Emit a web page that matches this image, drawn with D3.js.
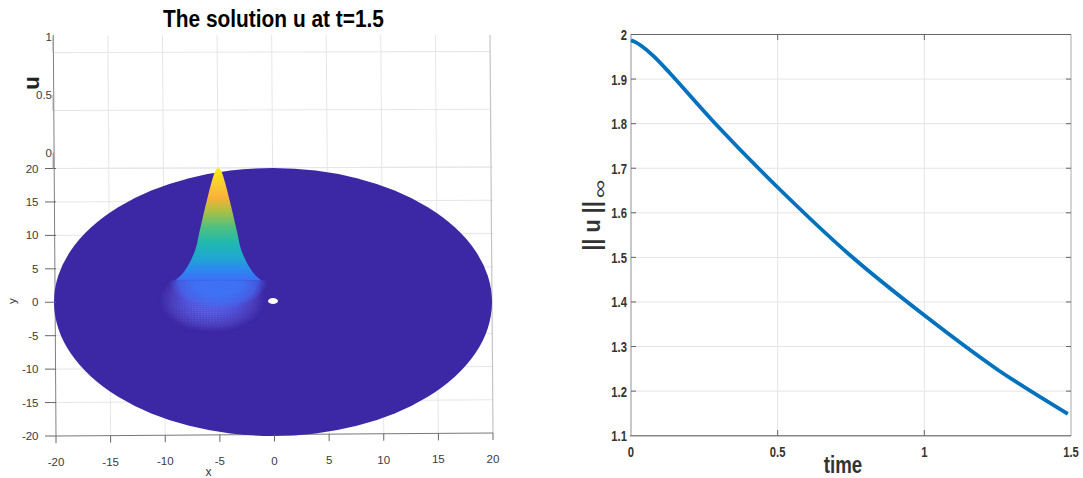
<!DOCTYPE html>
<html><head><meta charset="utf-8">
<script src="https://cdn.jsdelivr.net/npm/d3@7/dist/d3.min.js"></script>
<style>html,body{margin:0;background:#fff}svg{display:block}text{font-family:"Liberation Sans",Arial,sans-serif}</style>
</head><body><svg id="c" width="1083" height="478"></svg>
<script>
// ---- data ----
const title = "The solution u at t=1.5";
const xyTicks = [-20,-15,-10,-5,0,5,10,15,20];
const yyTicks = [-20,-15,-10,-5,0,5,10,15,20];
const zTicks = [0,0.5,1];
const peakX = -5, peakY = 0;
const diskRadius = 20;
const profileU = [1,0.99,0.963,0.886,0.761,0.637,0.515,0.388,0.261,0.2,0.16];
const profileR = [0,0.17,0.35,0.64,1.03,1.40,1.74,2.1,2.84,3.39,3.95];
const stopU = [1,0.89,0.78,0.685,0.56,0.44,0.335,0.24,0.142];
const stopColor = ["#f8f010","#fad030","#fbb03a","#b0c040","#50c080","#20b8b0","#20a8d0","#2d88f0","#4068f8"];
const skirtOffsets = [0,0.5,0.8,1];
const skirtColors = ["#5662e4","#5050d8","#4a3cba","#3c28a5"];
const timeVals = [0,0.015,0.036,0.076,0.133,0.286,0.497,0.75,1,1.25,1.489];
const normVals = [1.987,1.983,1.974,1.952,1.913,1.801,1.659,1.503,1.37,1.248,1.149];
const timeTicks = [0,0.5,1,1.5];
const normTicks = [1.1,1.2,1.3,1.4,1.5,1.6,1.7,1.8,1.9,2];

const svg = d3.select("#c");
const defs = svg.append("defs");
// ---- left panel scales (tilted 3-D box) ----
const xBot = d3.scaleLinear([-20,20],[56,493]);
const xTop = d3.scaleLinear([-20,20],[53.3,490]);
const yLft = d3.scaleLinear([-20,20],[436,168.5]);
const yRgt = d3.scaleLinear([-20,20],[433,167]);
const zLft = d3.scaleLinear([0,1],[168.5,52.6]);
const zRgt = d3.scaleLinear([0,1],[167,51.5]);
const gl = svg.append("g");
const gridC = "#e6e6e6";
const ln=(g,x1,y1,x2,y2,c,w)=>g.append("line").attr("x1",x1).attr("y1",y1).attr("x2",x2).attr("y2",y2).attr("stroke",c).attr("stroke-width",w);
xyTicks.forEach(v=>{ if(v>-20&&v<20) ln(gl,xTop(v),35,xBot(v),436,gridC,1); });
yyTicks.forEach(v=>{ if(v>-20) ln(gl,xBot(-20),yLft(v),xBot(20),yRgt(v),gridC,1); });
zTicks.forEach(v=>{ ln(gl,xTop(-20),zLft(v),xTop(20),zRgt(v),gridC,1); });
ln(gl,xTop(-20),35,xBot(-20),436,"#808080",1);
ln(gl,xTop(20),35,xBot(20),433,"#c4c4c4",1.2);
ln(gl,xBot(-20),436,xBot(20),433,"#777",1);
// disk
const diskX = d3.scaleLinear([-20,20],[54,492]);
const diskY = d3.scaleLinear([-20,20],[436,168]);
gl.append("ellipse").attr("cx",diskX(0)).attr("cy",diskY(0)).attr("rx",diskX(diskRadius)-diskX(0)).attr("ry",diskY(0)-diskY(diskRadius)).attr("fill","#3c28a5");
// peak
const pcx = diskX(peakX), rxU = (diskX(20)-diskX(0))/20;
const peakZ = d3.scaleLinear([0,1],[diskY(peakY),168]);
const rg = defs.append("radialGradient").attr("id","sk");
skirtOffsets.forEach((o,i)=>rg.append("stop").attr("offset",o).attr("stop-color",skirtColors[i]));
const rg3 = defs.append("radialGradient").attr("id","sk3");
[[0,"#3d72f4",1],[0.5,"#3d72f4",0.95],[0.8,"#4468ee",0.75],[1,"#4660e8",0]].forEach(s=>rg3.append("stop").attr("offset",s[0]).attr("stop-color",s[1]).attr("stop-opacity",s[2]));
const rg4 = defs.append("radialGradient").attr("id","sk4");
[[0,"#fff",1],[1,"#fff",0]].forEach(s=>rg4.append("stop").attr("offset",s[0]).attr("stop-color",s[1]).attr("stop-opacity",s[2]));
const mask = defs.append("mask").attr("id","skm");
mask.append("ellipse").attr("cx",pcx-14).attr("cy",311).attr("rx",40).attr("ry",20).attr("fill","url(#sk4)");
const pat = defs.append("pattern").attr("id","dots").attr("width",3).attr("height",2).attr("patternUnits","userSpaceOnUse");
pat.append("rect").attr("width",1.4).attr("height",1).attr("fill","#8a86f0");
defs.append("clipPath").attr("id","below").append("rect").attr("x",pcx-70).attr("y",peakZ(profileU[10])).attr("width",140).attr("height",60);
defs.append("filter").attr("id","bl").append("feGaussianBlur").attr("stdDeviation",1);
gl.append("ellipse").attr("cx",pcx-6).attr("cy",300).attr("rx",52).attr("ry",32).attr("fill","url(#sk)").attr("filter","url(#bl)");
gl.append("rect").attr("x",pcx-56).attr("y",290).attr("width",84).attr("height",42).attr("fill","url(#dots)").attr("mask","url(#skm)").attr("opacity",0.4);
const lg = defs.append("linearGradient").attr("id","pk").attr("gradientUnits","userSpaceOnUse").attr("x1",0).attr("x2",0).attr("y1",peakZ(1)).attr("y2",peakZ(stopU[8]));
const uSpan = 1-stopU[8];
stopU.forEach((u,i)=>lg.append("stop").attr("offset",(1-u)/uSpan).attr("stop-color",stopColor[i]));
const prof = profileU.map((u,i)=>({u,r:profileR[i]}));
const area = d3.area().curve(d3.curveCatmullRom).y(d=>peakZ(d.u)).x0(d=>pcx-d.r*rxU).x1(d=>pcx+d.r*rxU);
gl.append("path").attr("d",area(prof)).attr("fill","url(#pk)");
gl.append("g").attr("clip-path","url(#below)").append("ellipse").attr("cx",pcx).attr("cy",peakZ(profileU[10])).attr("rx",profileR[10]*rxU+6).attr("ry",30).attr("fill","url(#sk3)");
// hole
gl.append("ellipse").attr("cx",273).attr("cy",301).attr("rx",5).attr("ry",3).attr("fill","#fff");
// ticks + labels
const tl = (x,y,s,a="middle",fs=11.5)=>gl.append("text").attr("x",x).attr("y",y).attr("text-anchor",a).attr("font-size",fs).attr("fill","#3a3a3a").text(s);
xyTicks.forEach(v=>{
  const x=xBot(v), yb=436-(v+20)/40*3;
  ln(gl,x,yb,x,yb+7,"#666",1);
  tl(x,466-(v+20)/40*3,v);
});
yyTicks.forEach(v=>{
  ln(gl,45,yLft(v),xBot(-20),yLft(v),"#666",1);
  tl(38.5,yLft(v)+4,v,"end");
});
zTicks.forEach(v=>{
  ln(gl,xTop(-20),zLft(v)-16,xTop(-20),zLft(v),"#999",1.4);
  tl(52,zLft(v)-12,v,"end");
});
gl.append("text").attr("transform","translate(273.5,26.5) scale(0.87,1)").attr("text-anchor","middle").attr("font-size",24).attr("font-weight","bold").attr("fill","#000").text(title);
gl.append("text").attr("transform","translate(39,83) rotate(-90)").attr("text-anchor","middle").attr("font-size",22).attr("font-weight","bold").attr("fill","#222").text("u");
gl.append("text").attr("transform","translate(16,301) rotate(-90)").attr("text-anchor","middle").attr("font-size",11.5).attr("fill","#3a3a3a").text("y");
tl(208.5,476,"x","middle",12);

// ---- right panel ----
const xR = d3.scaleLinear([0,1.5],[631,1071]);
const yR = d3.scaleLinear([1.1,2],[435.7,34.5]);
const gr = svg.append("g");
timeTicks.slice(1,-1).forEach(v=>ln(gr,xR(v),34.5,xR(v),435.7,"#e4e4e4",1));
normTicks.slice(1,-1).forEach(v=>ln(gr,631,yR(v),1071,yR(v),"#e4e4e4",1));
ln(gr,631,34,631,436,"#c8c8c8",2);
ln(gr,1071,34.5,1071,436,"#aaa",1);
ln(gr,631,34.5,1071,34.5,"#666",1);
ln(gr,630,435.7,1071,435.7,"#888",1.5);
timeTicks.slice(1,-1).forEach(v=>{ln(gr,xR(v),34.5,xR(v),40,"#666",1);ln(gr,xR(v),430,xR(v),435.7,"#666",1);});
normTicks.slice(1,-1).forEach(v=>{ln(gr,631,yR(v),636,yR(v),"#666",1);ln(gr,1066,yR(v),1071,yR(v),"#666",1);});
const squeezed=(x,y,s,a,fs,sx,rot,w,sy)=>gr.append("text").attr("transform",`translate(${x},${y})${rot?` rotate(${rot})`:""} scale(${sx},${sy||1})`).attr("text-anchor",a).attr("font-size",fs).attr("font-weight",w||"bold").attr("fill","#333").text(s);
timeTicks.forEach(v=>squeezed(xR(v),457,v,"middle",15,0.75));
normTicks.forEach(v=>squeezed(627,yR(v)+5.5,v,"end",15,0.75));
squeezed(843,473,"time","middle",24,0.78);
squeezed(600,226,"|| u ||","middle",24,0.9,-90);
squeezed(606,189,"∞","middle",26,1,-90,"normal",0.7);
const line = d3.line().curve(d3.curveCatmullRom).x((d,i)=>xR(timeVals[i])).y(d=>yR(d));
gr.append("path").attr("d",line(normVals)).attr("fill","none").attr("stroke","#0072BD").attr("stroke-width",3.8);
</script></body></html>
